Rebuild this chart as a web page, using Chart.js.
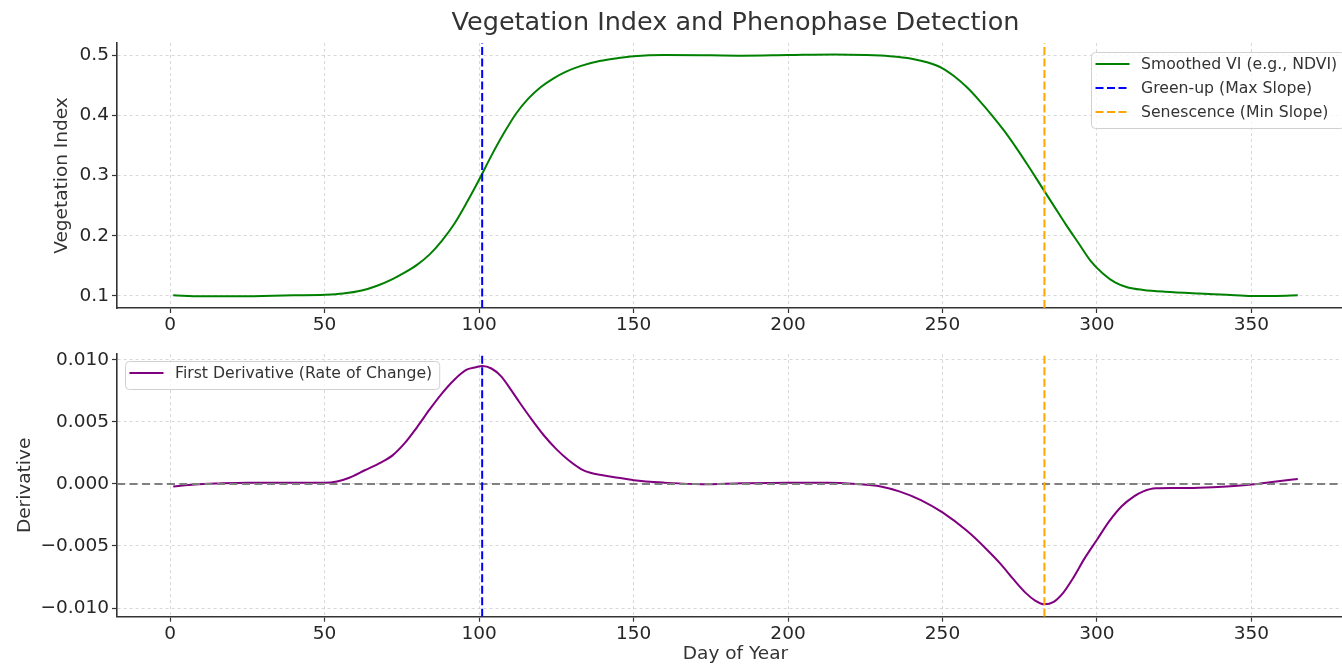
<!DOCTYPE html>
<html>
<head>
<meta charset="utf-8">
<script src="https://cdn.jsdelivr.net/npm/chart.js"></script>
<style>
html, body { margin: 0; padding: 0; background: #fff; overflow: hidden; }
#wrap { position: relative; width: 1342px; height: 665px; overflow: hidden; }
#topBox { position: absolute; left: 0; top: 0; width: 1354px; height: 340px; }
#botBox { position: absolute; left: 0; top: 340px; width: 1354px; height: 325px; }
</style>
</head>
<body>
<div id="wrap">
  <div id="topBox"><canvas id="viChart"></canvas></div>
  <div id="botBox"><canvas id="derivChart"></canvas></div>
</div>
<script>
// values
const viDays = [1, 10, 20, 30, 40, 50, 56, 62, 67, 72, 76, 80, 84, 88, 92, 96, 100, 104, 108, 112, 116, 120, 124, 128, 133, 139, 145, 150, 160, 175, 185, 200, 215, 225, 233, 240, 245, 250, 254, 258, 262, 266, 270, 274, 278, 282, 286, 290, 294, 298, 302, 306, 310, 315, 322, 333, 342, 350, 358, 365];
const viValues = [0.101, 0.0995, 0.0995, 0.1, 0.101, 0.102, 0.104, 0.109, 0.117, 0.128, 0.139, 0.152, 0.169, 0.192, 0.22, 0.255, 0.293, 0.333, 0.37, 0.403, 0.428, 0.447, 0.461, 0.472, 0.482, 0.49, 0.495, 0.498, 0.5, 0.4995, 0.499, 0.5, 0.501, 0.5, 0.498, 0.494, 0.488, 0.478, 0.464, 0.446, 0.424, 0.4, 0.374, 0.345, 0.314, 0.282, 0.25, 0.218, 0.188, 0.158, 0.137, 0.122, 0.114, 0.11, 0.107, 0.104, 0.102, 0.1, 0.1, 0.101];

const derivDays = [1, 8, 15, 25, 35, 45, 50, 54, 58, 63, 68, 72, 76, 80, 84, 88, 92, 96, 99, 101, 104, 107, 110, 113, 117, 121, 125, 129, 133, 136, 140, 145, 150, 160, 172, 185, 200, 213, 222, 230, 236, 243, 250, 258, 264, 269, 273, 277, 280, 283, 286, 289, 292, 296, 300, 304, 308, 312, 315, 319, 325, 333, 342, 350, 358, 365];
const derivValues = [-0.0002, -0.00005, 0.00003, 0.0001, 0.0001, 0.0001, 0.0001, 0.0002, 0.0005, 0.0011, 0.0017, 0.0023, 0.0033, 0.0046, 0.006, 0.0073, 0.0084, 0.0092, 0.0094, 0.0095, 0.0093, 0.0087, 0.0077, 0.0066, 0.0052, 0.0039, 0.0028, 0.0019, 0.0012, 0.0009, 0.0007, 0.0005, 0.0003, 0.0001, -0.00003, 0.00005, 0.0001, 0.0001, 0, -0.0002, -0.0006, -0.0013, -0.0023, -0.0038, -0.0052, -0.0065, -0.0077, -0.0088, -0.0094, -0.0097, -0.0095, -0.0088, -0.0077, -0.006, -0.0045, -0.003, -0.0018, -0.001, -0.0006, -0.00035, -0.00033, -0.0003, -0.0002, -0.00005, 0.0002, 0.0004];

const greenUpDay = 101;
const senescenceDay = 283;

const xTicks = [0, 50, 100, 150, 200, 250, 300, 350];
const viTicks = [0.1, 0.2, 0.3, 0.4, 0.5];
const derivTicks = [-0.010, -0.005, 0, 0.005, 0.010];

const xMin = -17.2, xMax = 383.2;
const viMin = 0.08, viMax = 0.52;
const derivMin = -0.0107, derivMax = 0.01046;

Chart.defaults.font.family = '"DejaVu Sans", sans-serif';
Chart.defaults.color = '#262626';
Chart.defaults.animation = false;

const toPoints = (xs, ys) => xs.map((x, i) => ({ x: x, y: ys[i] }));

// matplotlib-like legend box with a frame
const frameLegend = {
    id: 'frameLegend',
    afterDraw(chart, args, opts) {
        const ctx = chart.ctx;
        const items = chart.data.datasets.filter(d => d.label);
        ctx.save();
        ctx.font = opts.fontSize + 'px "DejaVu Sans"';
        const textW = Math.max(...items.map(d => ctx.measureText(d.label).width));
        const w = 50 + textW + 7;
        const h = 12 + (items.length - 1) * 24 + 16;
        const x = opts.x, y = opts.y;
        ctx.beginPath();
        ctx.roundRect(x + 0.5, y + 0.5, w, h, 4);
        ctx.fillStyle = 'rgba(255,255,255,0.8)';
        ctx.fill();
        ctx.strokeStyle = '#d0d0d0';
        ctx.lineWidth = 1;
        ctx.stroke();
        items.forEach((d, i) => {
            const ly = y + 12 + i * 24;
            ctx.beginPath();
            ctx.setLineDash(d.borderDash || []);
            ctx.strokeStyle = d.borderColor;
            ctx.lineWidth = d.borderWidth;
            ctx.moveTo(x + 4.5, ly);
            ctx.lineTo(x + 38.5, ly);
            ctx.stroke();
            ctx.setLineDash([]);
            ctx.fillStyle = '#333';
            ctx.textBaseline = 'middle';
            ctx.textAlign = 'left';
            ctx.fillText(d.label, x + 50, ly + 1);
        });
        ctx.restore();
    }
};

function xAxis(fitHeight, title) {
    return {
        type: 'linear',
        min: xMin,
        max: xMax,
        afterBuildTicks: s => { s.ticks = xTicks.map(v => ({ value: v })); },
        afterFit: s => { s.height = fitHeight; },
        ticks: { font: { size: 18.5 }, padding: 1, maxRotation: 0, callback: v => String(v) },
        grid: { color: '#cfcfcf', lineWidth: 0.8, tickLength: 5, tickColor: '#333', tickWidth: 1.2 },
        border: { display: true, color: '#333', width: 1.6, dash: [3, 3] },
        title: title
    };
}

function yAxis(min, max, tickVals, fmt, titleText, titlePad) {
    return {
        type: 'linear',
        min: min,
        max: max,
        afterBuildTicks: s => { s.ticks = tickVals.map(v => ({ value: v })); },
        afterFit: s => { s.width = 117; },
        ticks: { font: { size: 18.5 }, padding: 3, callback: fmt },
        grid: { color: '#cfcfcf', lineWidth: 0.8, tickLength: 5, tickColor: '#333', tickWidth: 1.2 },
        border: { display: true, color: '#333', width: 1.6, dash: [3, 3] },
        title: { display: true, text: titleText, font: { size: 18.5 }, color: '#333', padding: { top: titlePad, bottom: 0 } }
    };
}

const vline = (day, lo, hi, color) => ({
    data: [{ x: day, y: lo }, { x: day, y: hi }],
    borderColor: color,
    borderWidth: 2,
    borderDash: [8, 3.5],
    pointRadius: 0,
    order: 0
});

const viChart = new Chart(document.getElementById('viChart'), {
    type: 'line',
    data: {
        datasets: [
            {
                label: 'Smoothed VI (e.g., NDVI)',
                data: toPoints(viDays, viValues),
                borderColor: '#008000',
                borderWidth: 2,
                pointRadius: 0,
                cubicInterpolationMode: 'monotone',
                order: 2
            },
            Object.assign(vline(greenUpDay, viMin, viMax, '#0000ff'), { label: 'Green-up (Max Slope)' }),
            Object.assign(vline(senescenceDay, viMin, viMax, '#ffa500'), { label: 'Senescence (Min Slope)' })
        ]
    },
    options: {
        responsive: true,
        maintainAspectRatio: false,
        layout: { padding: 0 },
        scales: {
            x: xAxis(32, { display: false }),
            y: yAxis(viMin, viMax, viTicks, v => v.toFixed(1), 'Vegetation Index', 51)
        },
        plugins: {
            legend: { display: false },
            tooltip: { enabled: false },
            title: {
                display: true,
                fullSize: false,
                text: 'Vegetation Index and Phenophase Detection',
                color: '#333',
                font: { size: 25.5, weight: 'normal' },
                padding: { top: 8, bottom: 4.4 }
            },
            frameLegend: { x: 1091, y: 52, fontSize: 15.7 }
        }
    },
    plugins: [frameLegend]
});

const fmtDeriv = v => (v < 0 ? '\u2212' : '') + Math.abs(v).toFixed(3);

const derivChart = new Chart(document.getElementById('derivChart'), {
    type: 'line',
    data: {
        datasets: [
            {
                label: 'First Derivative (Rate of Change)',
                data: toPoints(derivDays, derivValues),
                borderColor: '#800080',
                borderWidth: 2,
                pointRadius: 0,
                cubicInterpolationMode: 'monotone',
                order: 2
            },
            {
                data: [{ x: xMin, y: 0 }, { x: xMax, y: 0 }],
                borderColor: '#808080',
                borderWidth: 2,
                borderDash: [8, 4.5],
                pointRadius: 0,
                order: 1
            },
            vline(greenUpDay, derivMin, derivMax, '#0000ff'),
            vline(senescenceDay, derivMin, derivMax, '#ffa500')
        ]
    },
    options: {
        responsive: true,
        maintainAspectRatio: false,
        layout: { padding: { top: 13, left: 0, right: 0, bottom: 0 } },
        scales: {
            x: xAxis(48.3, { display: true, text: 'Day of Year', font: { size: 18.5 }, color: '#333', padding: { top: 0, bottom: 0 } }),
            y: yAxis(derivMin, derivMax, derivTicks, fmtDeriv, 'Derivative', 14)
        },
        plugins: {
            legend: { display: false },
            tooltip: { enabled: false },
            frameLegend: { x: 125, y: 21, fontSize: 15.7 }
        }
    },
    plugins: [frameLegend]
});
</script>
</body>
</html>
